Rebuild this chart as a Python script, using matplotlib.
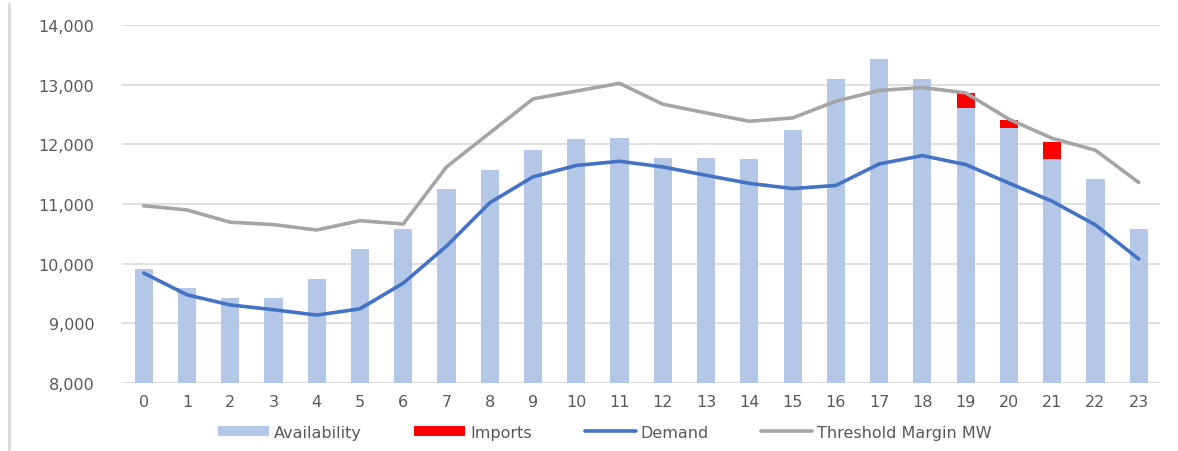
import matplotlib.pyplot as plt
from matplotlib.lines import Line2D
from matplotlib.ticker import FuncFormatter

hours = list(range(24))
availability = [9920, 9590, 9420, 9420, 9745, 10250, 10575, 11255, 11575, 11910,
                12090, 12100, 11770, 11775, 11760, 12245, 13090, 13430, 13100, 12600,
                12280, 11750, 11420, 10580]
imports = [0, 0, 0, 0, 0, 0, 0, 0, 0, 0,
           0, 0, 0, 0, 0, 0, 0, 0, 0, 250,
           125, 290, 0, 0]
demand = [9845, 9480, 9310, 9230, 9140, 9245, 9675, 10295, 11020, 11455,
          11645, 11715, 11620, 11480, 11345, 11258, 11310, 11670, 11810, 11660,
          11350, 11045, 10650, 10080]
threshold = [10970, 10900, 10695, 10655, 10565, 10720, 10665, 11620, 12190, 12760,
             12890, 13020, 12670, 12525, 12385, 12440, 12720, 12900, 12950, 12860,
             12420, 12100, 11900, 11360]

plt.rcParams['font.family'] = ['DejaVu Sans']
text_col = '#595959'

fig = plt.figure(figsize=(11.78, 4.52), dpi=100)
ax = fig.add_axes([0.1036, 0.150, 0.8814, 0.793])

b1 = ax.bar(hours, availability, width=0.42, color='#B4C7E7', label='Availability', zorder=2)
b2 = ax.bar(hours, imports, width=0.42, bottom=availability, color='#FF0000', label='Imports', zorder=2)
l1, = ax.plot(hours, demand, color='#4472C4', lw=2.6, label='Demand', zorder=3,
              solid_capstyle='round', solid_joinstyle='round')
l2, = ax.plot(hours, threshold, color='#A5A5A5', lw=2.6, label='Threshold Margin MW', zorder=3,
              solid_capstyle='round', solid_joinstyle='round')

ax.set_xlim(-0.5, 23.5)
ax.set_ylim(8000, 14000)
ax.set_yticks(range(8000, 14001, 1000))
ax.set_xticks(hours)
ax.yaxis.set_major_formatter(FuncFormatter(lambda v, p: f'{int(v):,}'))
ax.grid(axis='y', color='#D9D9D9', lw=1.2, zorder=0)
ax.set_axisbelow(True)
for s in ax.spines.values():
    s.set_visible(False)
ax.tick_params(axis='both', length=0, labelsize=11.5, colors=text_col)
ax.tick_params(axis='y', pad=20)
ax.tick_params(axis='x', pad=8)

ax.legend([b1, b2, l1, l2], ['Availability', 'Imports', 'Demand', 'Threshold Margin MW'],
          loc='center', bbox_to_anchor=(0.465, -0.137), ncol=4, frameon=False,
          fontsize=11.5, labelcolor=text_col, handlelength=3.2, handleheight=0.6,
          columnspacing=3.3, handletextpad=0.3)

# thin border on the left side
fig.add_artist(Line2D([0.0075, 0.0075], [0.0, 0.99], color='#D9D9D9', lw=2.0))

fig.savefig('out.png', dpi=100)
